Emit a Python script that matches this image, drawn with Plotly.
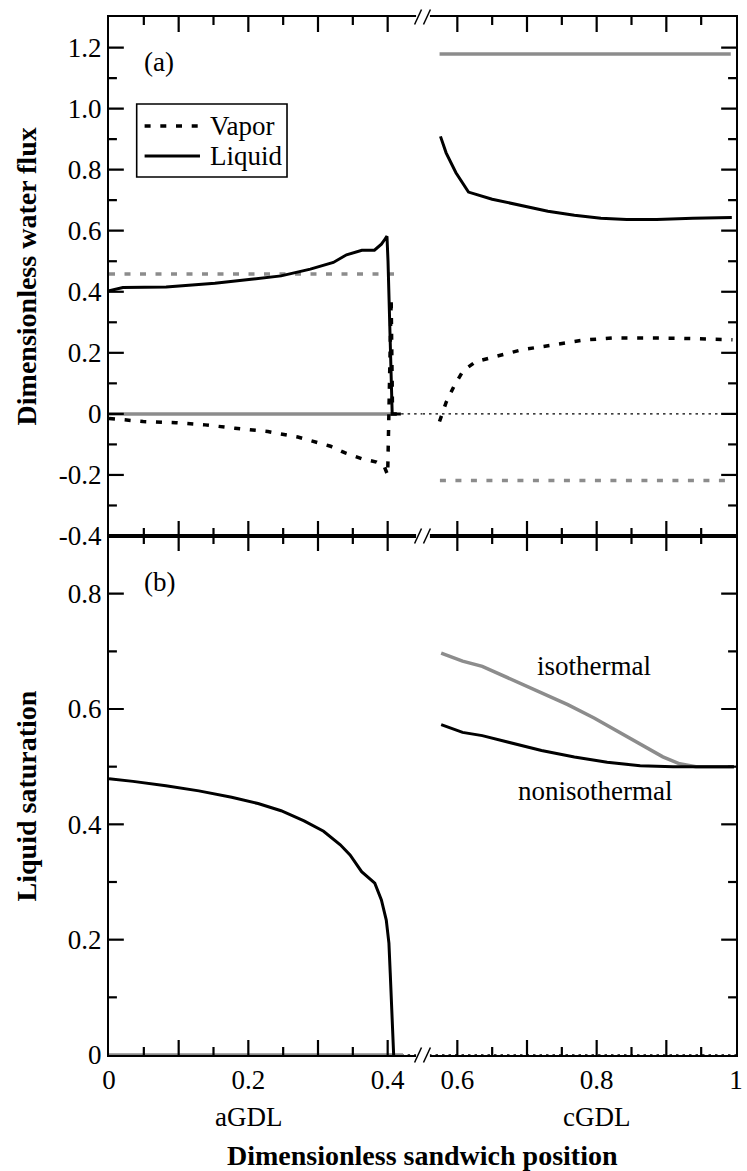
import plotly.graph_objects as go

FONT = "Liberation Serif, Times New Roman, Times, serif"
BLACK = "black"
GRAY = "#8c8c8c"

# ---------------- panel (a): dimensionless water flux ----------------
# anode GDL, nonisothermal
a_liq_x = [0.0, 0.02, 0.082, 0.152, 0.204, 0.247, 0.289, 0.322, 0.341, 0.363,
           0.381, 0.391, 0.396, 0.399, 0.4005, 0.4065, 0.419]
a_liq_y = [0.403, 0.414, 0.416, 0.428, 0.441, 0.452, 0.474, 0.496, 0.521, 0.536,
           0.536, 0.556, 0.572, 0.582, 0.50, 0.0, 0.0]
a_vap_x = [0.0, 0.049, 0.096, 0.138, 0.181, 0.228, 0.271, 0.318, 0.339, 0.363,
           0.384, 0.395, 0.400, 0.4025, 0.405, 0.407, 0.42]
a_vap_y = [-0.015, -0.025, -0.029, -0.036, -0.047, -0.058, -0.076, -0.106, -0.128, -0.147,
           -0.158, -0.172, -0.20, 0.05, 0.378, 0.0, 0.0]
# anode GDL, isothermal
a_vap_iso_x = [0.0, 0.41]
a_vap_iso_y = [0.458, 0.458]
a_liq_iso_x = [0.0, 0.405]
a_liq_iso_y = [0.0, 0.0]

# cathode GDL, nonisothermal
c_liq_x = [0.5758, 0.5839, 0.598, 0.616, 0.65, 0.6925, 0.730, 0.768, 0.806, 0.843,
           0.886, 0.938, 0.994]
c_liq_y = [0.909, 0.855, 0.79, 0.7265, 0.703, 0.681, 0.664, 0.651, 0.6405, 0.637,
           0.637, 0.6405, 0.643]
c_vap_x = [0.5744, 0.584, 0.5956, 0.6084, 0.6264, 0.650, 0.6925, 0.735, 0.782, 0.825,
           0.872, 0.9145, 0.962, 0.995]
c_vap_y = [-0.025, 0.038, 0.0925, 0.1415, 0.171, 0.185, 0.21, 0.225, 0.242, 0.249,
           0.249, 0.248, 0.245, 0.243]
# cathode GDL, isothermal
c_liq_iso_x = [0.5745, 0.9925]
c_liq_iso_y = [1.179, 1.179]
c_vap_iso_x = [0.575, 0.985]
c_vap_iso_y = [-0.218, -0.218]

# zero reference past the anode GDL
zero_left_x = [0.41, 0.45]
zero_right_x = [0.55, 1.0]

# ---------------- panel (b): liquid saturation ----------------
a_sat_x = [0.0, 0.0345, 0.0817, 0.129, 0.176, 0.214, 0.247, 0.28, 0.308, 0.332,
           0.346, 0.3626, 0.3815, 0.391, 0.398, 0.4018, 0.4037, 0.4056, 0.4086]
a_sat_y = [0.479, 0.4745, 0.467, 0.458, 0.447, 0.436, 0.4236, 0.406, 0.388, 0.3646,
           0.347, 0.318, 0.298, 0.269, 0.234, 0.194, 0.142, 0.078, 0.0]
a_sat_iso_x = [0.0, 0.422]
a_sat_iso_y = [0.0, 0.0]

c_sat_iso_x = [0.5768, 0.6075, 0.6358, 0.6735, 0.7208, 0.7585, 0.7963, 0.8341, 0.8667,
               0.895, 0.919, 0.9425, 0.997]
c_sat_iso_y = [0.697, 0.683, 0.674, 0.654, 0.628, 0.6076, 0.5845, 0.5585, 0.535,
               0.517, 0.505, 0.5, 0.5]
c_sat_x = [0.5768, 0.6075, 0.6358, 0.6735, 0.7208, 0.768, 0.8151, 0.8624, 0.9096,
           0.9568, 0.997]
c_sat_y = [0.573, 0.5595, 0.5538, 0.542, 0.528, 0.5168, 0.5075, 0.5017, 0.5, 0.5, 0.5]

# axis ranges and ticks
left_range = [0.0, 0.45]
right_range = [0.55, 1.0]
flux_range = [-0.4, 1.3]
sat_range = [0.0, 0.9]
left_ticks = [0.0, 0.1, 0.2, 0.3, 0.4]
left_text = ["0", "", "0.2", "", "0.4"]
left_minor = [0.05, 0.15, 0.25, 0.35]
right_ticks = [0.6, 0.7, 0.8, 0.9, 1.0]
right_text = ["0.6", "", "0.8", "", "1"]
right_minor = [0.65, 0.75, 0.85, 0.95]
flux_ticks = [-0.4, -0.2, 0.0, 0.2, 0.4, 0.6, 0.8, 1.0, 1.2]
flux_text = ["-0.4", "-0.2", "0", "0.2", "0.4", "0.6", "0.8", "1.0", "1.2"]
flux_minor = [-0.3, -0.1, 0.1, 0.3, 0.5, 0.7, 0.9, 1.1]
sat_ticks = [0.0, 0.2, 0.4, 0.6, 0.8]
sat_text = ["0", "0.2", "0.4", "0.6", "0.8"]
sat_minor = [0.1, 0.3, 0.5, 0.7]

# ---------------- page geometry ----------------
W, H = 747, 1171
ML, MR, MT, MB = 109, 4, 17, 116
PW, PH = W - ML - MR, H - MT - MB
PANEL_H = PH / 2
HALF_W = PW / 2
MAJOR_LEN, MINOR_LEN = 15, 8
TICK = dict(color=BLACK, width=2.2)


def px(xp):
    return (xp - ML) / PW


def py(yp):
    return (H - MB - yp) / PH


SOLID = dict(color=BLACK, width=3)
DOTS = dict(color=BLACK, width=3.5, dash="6px,9.7px")
GSOLID = dict(color=GRAY, width=3.5)
GDOTS = dict(color=GRAY, width=3.5, dash="6px,9.5px")
THIN = dict(color=BLACK, width=1.4, dash="2.5px,4px")

# subplots: anode half / cathode half of each panel
TOP_L, TOP_R = ("x3", "y2"), ("x4", "y4")
BOT_L, BOT_R = ("x", "y"), ("x2", "y3")

fig = go.Figure()


def add(x, y, line, sub, clip=True):
    fig.add_trace(go.Scatter(x=x, y=y, mode="lines", line=line, xaxis=sub[0], yaxis=sub[1],
                             showlegend=False, hoverinfo="skip", cliponaxis=clip))


# panel (a) — top
add(zero_left_x, [0, 0], THIN, TOP_L)
add(zero_right_x, [0, 0], THIN, TOP_R)
add(a_liq_iso_x, a_liq_iso_y, GSOLID, TOP_L)
add(a_vap_iso_x, a_vap_iso_y, GDOTS, TOP_L)
add(c_liq_iso_x, c_liq_iso_y, GSOLID, TOP_R)
add(c_vap_iso_x, c_vap_iso_y, GDOTS, TOP_R)
add(a_vap_x, a_vap_y, DOTS, TOP_L)
add(a_liq_x, a_liq_y, SOLID, TOP_L)
add(c_vap_x, c_vap_y, DOTS, TOP_R)
add(c_liq_x, c_liq_y, SOLID, TOP_R)

# panel (b) — bottom
add(zero_left_x, [0, 0], THIN, BOT_L, clip=False)
add(zero_right_x, [0, 0], THIN, BOT_R, clip=False)
add(a_sat_iso_x, a_sat_iso_y, GSOLID, BOT_L, clip=False)
add(a_sat_x, a_sat_y, SOLID, BOT_L, clip=False)
add(c_sat_iso_x, c_sat_iso_y, GSOLID, BOT_R)
add(c_sat_x, c_sat_y, SOLID, BOT_R)


# ---------------- tick marks (pointing into each panel, on all frame edges) ----------------
def inside(v, rng):
    return rng[0] + 1e-9 < v < rng[1] - 1e-9


def tick_marks(sub, xr, yr, xvals, yvals, y_side):
    """Short segments in data units of one subplot."""
    xs, ys = [], []
    for vals, length in xvals:
        dy = length / PANEL_H * (yr[1] - yr[0])
        for v in vals:
            if inside(v, xr):
                xs += [v, v, None, v, v, None]
                ys += [yr[0], yr[0] + dy, None, yr[1], yr[1] - dy, None]
    for vals, length in yvals:
        dx = length / HALF_W * (xr[1] - xr[0])
        for v in vals:
            if inside(v, yr):
                if y_side == "left":
                    xs += [xr[0], xr[0] + dx, None]
                else:
                    xs += [xr[1], xr[1] - dx, None]
                ys += [v, v, None]
    fig.add_trace(go.Scatter(x=xs, y=ys, mode="lines", line=TICK, xaxis=sub[0],
                             yaxis=sub[1], showlegend=False, hoverinfo="skip",
                             cliponaxis=False, connectgaps=False))


tick_marks(BOT_L, left_range, sat_range,
           [(left_ticks, MAJOR_LEN), (left_minor, MINOR_LEN)],
           [(sat_ticks, MAJOR_LEN), (sat_minor, MINOR_LEN)], "left")
tick_marks(BOT_R, right_range, sat_range,
           [(right_ticks, MAJOR_LEN), (right_minor, MINOR_LEN)],
           [(sat_ticks, MAJOR_LEN), (sat_minor, MINOR_LEN)], "right")
tick_marks(TOP_L, left_range, flux_range,
           [(left_ticks, MAJOR_LEN), (left_minor, MINOR_LEN)],
           [(flux_ticks, MAJOR_LEN), (flux_minor, MINOR_LEN)], "left")
tick_marks(TOP_R, right_range, flux_range,
           [(right_ticks, MAJOR_LEN), (right_minor, MINOR_LEN)],
           [(flux_ticks, MAJOR_LEN), (flux_minor, MINOR_LEN)], "right")

tickfont = dict(family=FONT, size=27, color=BLACK)
common = dict(ticks="", showline=True, linewidth=2, linecolor=BLACK, showgrid=False,
              zeroline=False, tickfont=tickfont, ticklabeloverflow="allow")


def xax(domain, rng, tv, tt, anchor, labels):
    return dict(common, domain=domain, range=rng, anchor=anchor, tickmode="array",
                tickvals=tv, ticktext=tt, mirror=True, showticklabels=labels)


def yax(domain, rng, tv, tt, anchor, side, labels):
    return dict(common, domain=domain, range=rng, anchor=anchor, side=side,
                tickmode="array", tickvals=tv, ticktext=tt, mirror=False,
                showticklabels=labels)


fig.update_layout(
    width=W, height=H,
    margin=dict(l=ML, r=MR, t=MT, b=MB, pad=0),
    paper_bgcolor="white", plot_bgcolor="white",
    showlegend=False,
    font=dict(family=FONT, size=27, color=BLACK),
    xaxis=xax([0, 0.5], left_range, left_ticks, left_text, "y", True),
    xaxis2=xax([0.5, 1], right_range, right_ticks, right_text, "y3", True),
    xaxis3=xax([0, 0.5], left_range, left_ticks, left_text, "y2", False),
    xaxis4=xax([0.5, 1], right_range, right_ticks, right_text, "y4", False),
    yaxis=yax([0, 0.5], sat_range, sat_ticks, sat_text, "x", "left", True),
    yaxis3=yax([0, 0.5], sat_range, sat_ticks, sat_text, "x2", "right", False),
    yaxis2=yax([0.5, 1], flux_range, flux_ticks, flux_text, "x3", "left", True),
    yaxis4=yax([0.5, 1], flux_range, flux_ticks, flux_text, "x4", "right", False),
)

shapes = []
# legend frame and samples
shapes.append(dict(type="rect", xref="paper", yref="paper", x0=px(137), x1=px(289),
                   y0=py(177), y1=py(104), line=dict(color=BLACK, width=1.6),
                   fillcolor="white", layer="above"))
shapes.append(dict(type="line", xref="paper", yref="paper", x0=px(145), x1=px(201),
                   y0=py(126), y1=py(126), line=DOTS, layer="above"))
shapes.append(dict(type="line", xref="paper", yref="paper", x0=px(145), x1=px(201),
                   y0=py(156), y1=py(156), line=SOLID, layer="above"))
# axis break marks on the top, middle and bottom frame lines
xb = ML + HALF_W
for yl in (MT, MT + PANEL_H, MT + PH):
    shapes.append(dict(type="rect", xref="paper", yref="paper", x0=px(xb - 6.5),
                       x1=px(xb + 7.5), y0=py(yl + 2.5), y1=py(yl - 2.5),
                       line=dict(width=0), fillcolor="white", layer="above"))
    for dx in (-4.5, 4.5):
        shapes.append(dict(type="line", xref="paper", yref="paper",
                           x0=px(xb + dx - 3.5), y0=py(yl + 7.5),
                           x1=px(xb + dx + 3.5), y1=py(yl - 7.5),
                           line=dict(color=BLACK, width=1.5), layer="above"))

ann = []
# axis titles
ann.append(dict(text="<b>Dimensionless sandwich position</b>", xref="paper", yref="paper",
                x=0.5, y=py(1155), xanchor="center", yanchor="middle", showarrow=False,
                font=dict(family=FONT, size=28)))
ann.append(dict(text="<b>Dimensionless water flux</b>", xref="paper", yref="paper",
                x=px(26), y=0.75, xanchor="center", yanchor="middle", textangle=-90,
                showarrow=False, font=dict(family=FONT, size=28)))
ann.append(dict(text="<b>Liquid saturation</b>", xref="paper", yref="paper",
                x=px(26), y=0.25, xanchor="center", yanchor="middle", textangle=-90,
                showarrow=False, font=dict(family=FONT, size=28)))
# layer names
ann.append(dict(text="aGDL", xref="x", yref="paper", x=0.2, y=py(1117), xanchor="center",
                yanchor="middle", showarrow=False))
ann.append(dict(text="cGDL", xref="x2", yref="paper", x=0.8, y=py(1117), xanchor="center",
                yanchor="middle", showarrow=False))
# panel letters
ann.append(dict(text="(a)", xref="paper", yref="paper", x=px(160), y=py(62),
                xanchor="center", yanchor="middle", showarrow=False))
ann.append(dict(text="(b)", xref="paper", yref="paper", x=px(160), y=py(582),
                xanchor="center", yanchor="middle", showarrow=False))
# curve labels
ann.append(dict(text="isothermal", xref="x2", yref="y3", x=0.796, y=0.674,
                xanchor="center", yanchor="middle", showarrow=False))
ann.append(dict(text="nonisothermal", xref="x2", yref="y3", x=0.798, y=0.457,
                xanchor="center", yanchor="middle", showarrow=False))
# legend text
ann.append(dict(text="Vapor", xref="paper", yref="paper", x=px(209), y=py(126),
                xanchor="left", yanchor="middle", showarrow=False))
ann.append(dict(text="Liquid", xref="paper", yref="paper", x=px(209), y=py(156),
                xanchor="left", yanchor="middle", showarrow=False))

fig.update_layout(annotations=ann, shapes=shapes)
fig.write_html("out.html")
